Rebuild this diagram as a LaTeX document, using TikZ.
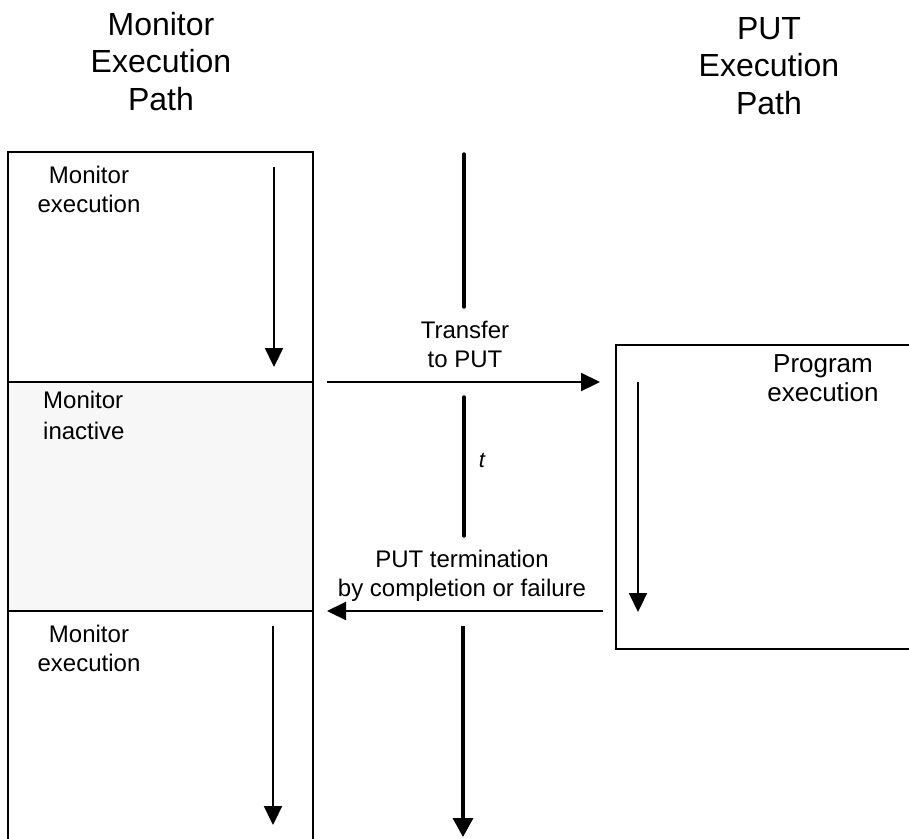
\documentclass[tikz,border=0pt]{standalone}
\usepackage{fontspec}
\setmainfont{Liberation Sans}
\usetikzlibrary{arrows.meta}

\begin{document}
\begin{tikzpicture}[x=1pt,y=-1pt,
  box/.style={draw=black,line width=1.2pt,inner sep=0pt,outer sep=0pt,anchor=north west},
  frame/.style={inner sep=0pt,outer sep=0pt,anchor=north west},
  edge/.style={line width=1.2pt},
  flow/.style={line width=2.2pt,-{Triangle[length=19pt,width=18pt]}},
  timeline/.style={line width=3.4pt,line cap=round},
  timearrow/.style={line width=3.4pt,-{Triangle[length=19pt,width=20pt]}},
  lbl/.style={font=\fontsize{24}{29}\selectfont,align=center,inner sep=0pt,anchor=north},
  head/.style={font=\fontsize{32}{37.5}\selectfont,align=center,inner sep=0pt,anchor=north}]
\useasboundingbox (0,0) rectangle (909,838);

% column headings
\node[head] (hmon) at (161,12) {Monitor\\Execution\\Path};
\node[head] (hput) at (769,17) {PUT\\Execution\\Path};

% monitor column: active, inactive, active again
\node[box,minimum width=305pt,minimum height=230pt] (mon1) at (8,152) {};
\node[box,fill=black!3,minimum width=305pt,minimum height=229pt] (idle) at (8,382) {};
\node[frame,minimum width=305pt,minimum height=230pt] (mon2) at (8,611) {};
\draw[edge] (mon2.north west) -- (mon2.south west);
\draw[edge] (mon2.north east) -- (mon2.south east);

% program under test
\node[frame,minimum width=293pt,minimum height=304pt] (prog) at (616,345) {};
\draw[edge] (prog.north east) -- (prog.north west) -- (prog.south west) -- (prog.south east);

% labels
\node[lbl] (lmon1) at (89,166) {Monitor\\execution};
\node[lbl,anchor=north west,align=left,font=\fontsize{24}{31}\selectfont] (lidle) at (43,391) {Monitor\\inactive};
\node[lbl] (lmon2) at (89,625) {Monitor\\execution};
\node[lbl,font=\fontsize{26}{29}\selectfont] (lprog) at (823,354.5) {Program\\execution};
\node[lbl] (ltrans) at (465,321) {Transfer\\to PUT};
\node[lbl] (lterm) at (462,550) {PUT termination\\by completion or failure};
\node[font=\fontsize{22}{22}\selectfont\itshape,anchor=base,inner sep=0pt] (lt) at (482,467) {t};

% execution flow inside the boxes
\coordinate (m1a) at (274,167);
\coordinate (m1b) at (274,367);
\coordinate (m2a) at (273,626);
\coordinate (m2b) at (273,825);
\coordinate (pa) at (638,382);
\coordinate (pb) at (638,612);
\draw[flow] (m1a) -- (m1b);
\draw[flow] (m2a) -- (m2b);
\draw[flow] (pa) -- (pb);

% time axis
\coordinate (t1a) at (464,154);
\coordinate (t1b) at (464,307);
\coordinate (t2a) at (464,397);
\coordinate (t2b) at (464,536);
\coordinate (t3a) at (463,626);
\coordinate (t3b) at (463,837);
\draw[timeline] (t1a) -- (t1b);
\draw[timeline] (t2a) -- (t2b);
\draw[timearrow] (t3a) -- (t3b);

% control transfers between monitor and program
\draw[flow,shorten <=14pt,shorten >=16pt] (mon1.south east) -- (prog.west |- mon1.south east);
\draw[flow,shorten <=13pt,shorten >=14pt] (prog.west |- idle.south) -- (idle.south east);
\end{tikzpicture}
\end{document}
